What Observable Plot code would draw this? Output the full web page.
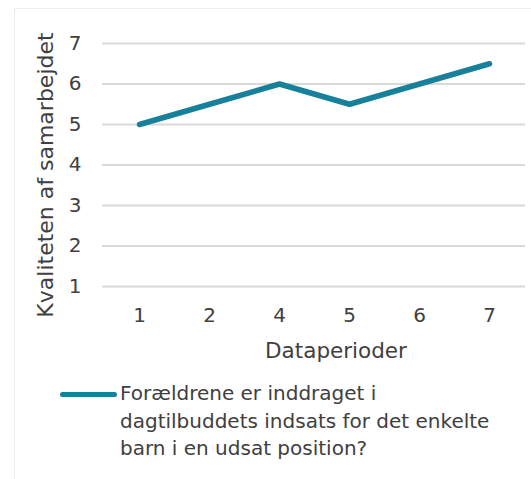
<!DOCTYPE html>
<html>
<head>
<meta charset="utf-8">
<script src="https://cdn.jsdelivr.net/npm/d3@7"></script>
<script src="https://cdn.jsdelivr.net/npm/@observablehq/plot@0.6"></script>
<style>
  html, body { margin: 0; padding: 0; background: #fff; }
  body { width: 531px; height: 479px; position: relative; overflow: hidden; font-family: "DejaVu Sans", Verdana, sans-serif; color: #404040; }
  #frame { position: absolute; left: 14px; top: 8px; width: 600px; height: 600px; border-left: 1.5px solid #ececec; border-top: 1.5px solid #ececec; }
  #chart { position: absolute; left: 0; top: 0; }
  #legend { position: absolute; left: 60px; top: 380px; display: flex; align-items: flex-start; font-size: 20px; line-height: 27.5px; color: #404040; }
  #legend .swatch { width: 57px; height: 5px; border-radius: 3px; margin-top: 12px; margin-right: 3px; flex: none; }
</style>
</head>
<body>
<div id="frame"></div>
<div id="chart"></div>
<div id="legend"></div>
<script>
const periods = ["1", "2", "4", "5", "6", "7"];
const values = [5, 5.5, 6, 5.5, 6, 6.5];
const yTicks = [1, 2, 3, 4, 5, 6, 7];
const seriesName = "Forældrene er inddraget i dagtilbuddets indsats for det enkelte barn i en udsat position?";
const legendLines = ["Forældrene er inddraget i", "dagtilbuddets indsats for det enkelte", "barn i en udsat position?"];
const xTitle = "Dataperioder";
const yTitle = "Kvaliteten af samarbejdet";
const lineColor = "#17809a";

const data = periods.map((p, i) => ({period: p, value: values[i], series: seriesName}));

const chart = Plot.plot({
  width: 531,
  height: 370,
  marginLeft: 102,
  marginRight: 6,
  marginTop: 43,
  marginBottom: 84,
  style: {fontFamily: "DejaVu Sans, Verdana, sans-serif", fontSize: "20px", color: "#404040", background: "transparent"},
  x: {type: "point", domain: periods, padding: 0.5, label: null},
  y: {domain: [1, 7], ticks: yTicks, label: null},
  marks: [
    Plot.ruleY(yTicks, {stroke: "#d9d9d9", strokeWidth: 2}),
    Plot.axisY({ticks: yTicks, tickFormat: d => String(d), tickSize: 0, tickPadding: 21, label: null, fontSize: 20}),
    Plot.axisX({tickSize: 0, tickPadding: 21, label: null, fontSize: 20}),
    Plot.line(data, {x: "period", y: "value", stroke: lineColor, strokeWidth: 5.5, strokeLinecap: "round", strokeLinejoin: "round"}),
    Plot.text([xTitle], {frameAnchor: "bottom", dx: 22, dy: 71, text: d => d, fontSize: 21.5, fill: "#404040"}),
    Plot.text([yTitle], {frameAnchor: "left", dx: -57, dy: 10, rotate: -90, textAnchor: "middle", text: d => d, fontSize: 22, fill: "#404040"})
  ]
});
document.getElementById("chart").appendChild(chart);

const legend = document.getElementById("legend");
const sw = document.createElement("span");
sw.className = "swatch";
sw.style.background = lineColor;
legend.appendChild(sw);
const txt = document.createElement("div");
txt.innerHTML = legendLines.join("<br>");
legend.appendChild(txt);
</script>
</body>
</html>
